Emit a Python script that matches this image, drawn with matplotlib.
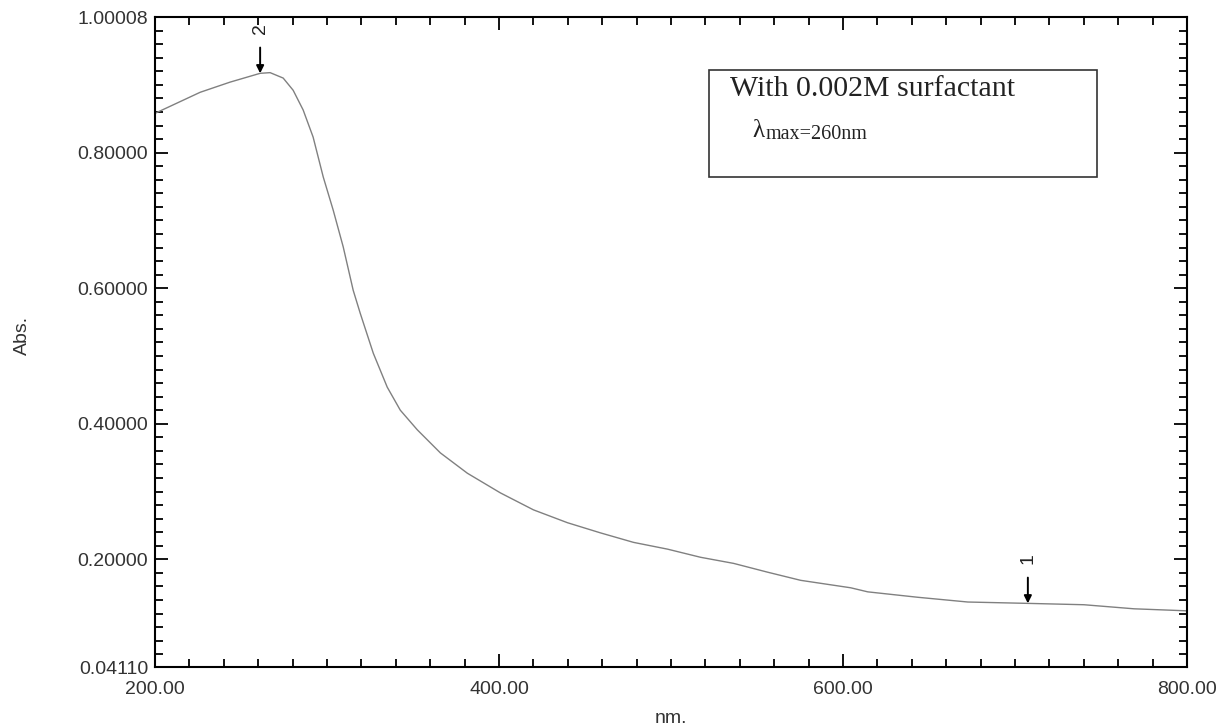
import numpy as np
import matplotlib
matplotlib.use('Agg')
import matplotlib.pyplot as plt
from matplotlib.ticker import MultipleLocator, FixedLocator

# Spectrum (wavelength in nm, absorbance)
wavelength = [200.0, 226.2, 243.6, 261.1, 266.9, 274.5, 280.3, 286.1, 291.9, 297.8,
              303.6, 309.4, 315.2, 319.3, 326.9, 335.0, 342.6, 352.5, 365.9, 381.6,
              400.8, 420.0, 439.8, 459.0, 478.2, 498.0, 517.2, 536.4, 556.2, 575.4,
              604.5, 614.4, 643.5, 672.6, 707.5, 740.1, 769.2, 800.0]
absorbance = [0.858, 0.889, 0.904, 0.917, 0.918, 0.910, 0.892, 0.863, 0.823, 0.764,
              0.715, 0.661, 0.597, 0.563, 0.504, 0.454, 0.420, 0.391, 0.357, 0.327,
              0.298, 0.273, 0.254, 0.239, 0.225, 0.215, 0.203, 0.194, 0.181, 0.169,
              0.158, 0.152, 0.144, 0.137, 0.135, 0.133, 0.127, 0.124]

# Peak markers: (label, wavelength, absorbance)
peak_labels = ['2', '1']
peak_nm = [261.1, 707.5]
peak_abs = [0.917, 0.135]

x_ticks = [200, 400, 600, 800]
x_ticklabels = ['200.00', '400.00', '600.00', '800.00']
y_ticks = [0.04110, 0.2, 0.4, 0.6, 0.8, 1.00008]
y_ticklabels = ['0.04110', '0.20000', '0.40000', '0.60000', '0.80000', '1.00008']

plt.rcParams['font.family'] = ['Liberation Sans', 'DejaVu Sans']
serif = ['Liberation Serif', 'DejaVu Serif']

fig = plt.figure(figsize=(12.19, 7.27), dpi=100)
ax = fig.add_axes([0.1272, 0.0825, 0.8465, 0.8941])

ax.plot(wavelength, absorbance, color='#808080', lw=1.0)

ax.set_xlim(200, 800)
ax.set_ylim(0.04110, 1.00008)

ax.xaxis.set_major_locator(FixedLocator(x_ticks))
ax.set_xticklabels(x_ticklabels)
ax.xaxis.set_minor_locator(MultipleLocator(20))
ax.yaxis.set_major_locator(FixedLocator(y_ticks))
ax.set_yticklabels(y_ticklabels)
ax.yaxis.set_minor_locator(FixedLocator(np.arange(0.06, 1.0, 0.02)))

ax.tick_params(which='both', direction='in', top=True, right=True,
               labelsize=14, labelcolor='#333333', color='black', width=1.3)
ax.tick_params(which='major', length=9.5)
ax.tick_params(axis='x', which='major', pad=10)
ax.tick_params(axis='y', which='major', pad=5)
ax.tick_params(which='minor', length=5.5)
for s in ax.spines.values():
    s.set_linewidth(1.5)

ax.set_xlabel('nm.', fontsize=14, color='#333333')
ax.xaxis.set_label_coords(0.5, -0.066)
ax.set_ylabel('Abs.', fontsize=14, color='#333333')
ax.yaxis.set_label_coords(-0.12, 0.51)

# Peak arrows with rotated numbers
for lab, xp, yp in zip(peak_labels, peak_nm, peak_abs):
    ax.annotate('', xy=(xp, yp), xytext=(xp, yp + 0.038),
                arrowprops=dict(arrowstyle='-|>', color='black', lw=1.4,
                                mutation_scale=11, shrinkA=0, shrinkB=0))
    ax.text(xp, yp + 0.058, lab, rotation=90, ha='center', va='bottom',
            fontsize=14, color='#222222')

# Annotation box
box = plt.Rectangle((0.5368, 0.7533), 0.376, 0.1647, transform=ax.transAxes,
                    fill=False, edgecolor='#333333', lw=1.2)
ax.add_patch(box)
ax.text(0.557, 0.889, 'With 0.002M surfactant', transform=ax.transAxes,
        family=serif, fontsize=21.5, color='#222222', va='center', ha='left')
ax.text(0.5785, 0.825, 'λ', transform=ax.transAxes,
        family=serif, fontsize=18, color='#222222', va='center', ha='left')
ax.text(0.5915, 0.82, 'max=260nm', transform=ax.transAxes,
        family=serif, fontsize=14.5, color='#222222', va='center', ha='left')

fig.savefig('out.png', dpi=100)
